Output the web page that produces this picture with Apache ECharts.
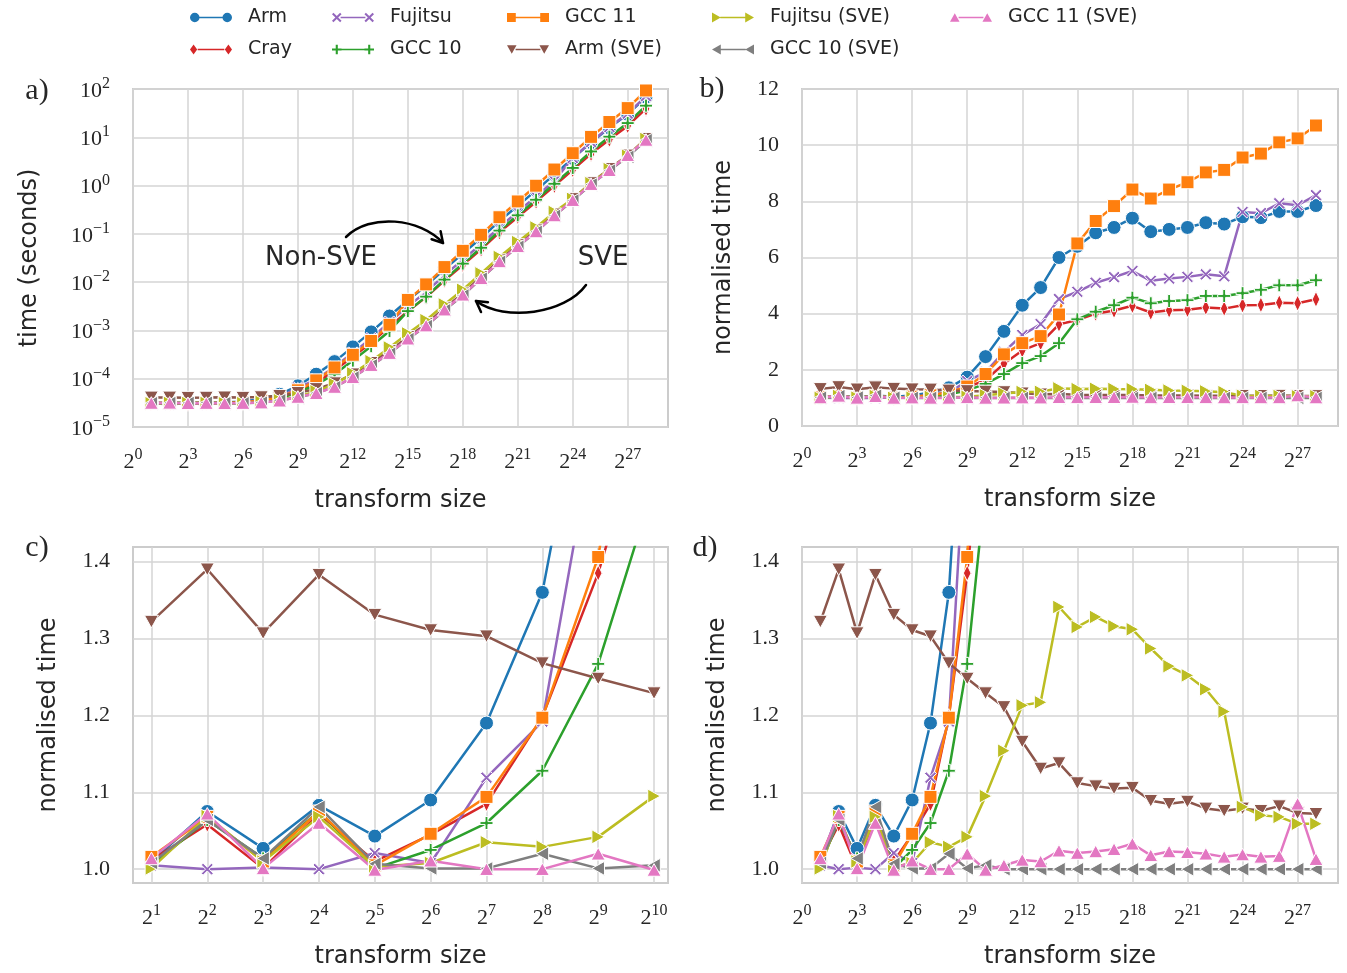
<!DOCTYPE html>
<html>
<head>
<meta charset="utf-8">
<title>FFT transform timings</title>
<script src="https://cdn.jsdelivr.net/npm/echarts@6/dist/echarts.min.js"></script>
<style>
  html, body { margin: 0; padding: 0; background: #fff; }
  #chart { width: 1347px; height: 973px; }
</style>
</head>
<body>
<div id="chart"></div>
<script>
// x values: log2 of the transform size (2^1 .. 2^28)
var exps = [1, 2, 3, 4, 5, 6, 7, 8, 9, 10, 11, 12, 13, 14, 15, 16, 17, 18, 19, 20, 21, 22, 23, 24, 25, 26, 27, 28];
var names = ['Arm', 'Cray', 'Fujitsu', 'GCC 10', 'GCC 11', 'Arm (SVE)', 'Fujitsu (SVE)', 'GCC 10 (SVE)', 'GCC 11 (SVE)'];
var colors = ['#1f77b4', '#d62728', '#9467bd', '#2ca02c', '#ff7f0e', '#8c564b', '#bcbd22', '#7f7f7f', '#e377c2'];
var markerKinds = ['circle', 'diamond', 'x', 'plus', 'square', 'down', 'right', 'left', 'up'];

// panel a: time in seconds
var timeArm = [3.13e-5, 3.17e-5, 3.18e-5, 3.19e-5, 3.23e-5, 3.38e-5, 3.81e-5, 4.76e-5, 7.13e-5, 1.24e-4, 2.26e-4, 4.56e-4, 9.32e-4, 1.99e-3, 4.22e-3, 8.46e-3, 1.85e-2, 3.92e-2, 8.17e-2, 0.184, 0.382, 0.796, 1.70, 3.65, 7.79, 15.7, 30.0, 68.3];
var timeCray = [3.14e-5, 3.12e-5, 3.10e-5, 3.16e-5, 3.13e-5, 3.24e-5, 3.47e-5, 4.19e-5, 5.68e-5, 8.15e-5, 1.49e-4, 2.85e-4, 5.58e-4, 1.20e-3, 2.49e-3, 4.92e-3, 1.08e-2, 2.27e-2, 4.77e-2, 0.108, 0.224, 0.464, 0.986, 2.11, 4.53, 9.0, 17.2, 39.2];
var timeFujitsu = [3.12e-5, 2.95e-5, 3.11e-5, 2.95e-5, 3.17e-5, 3.13e-5, 3.58e-5, 4.17e-5, 6.56e-5, 9.6e-5, 1.77e-4, 3.43e-4, 6.86e-4, 1.50e-3, 3.15e-3, 6.27e-3, 1.39e-2, 2.93e-2, 6.10e-2, 0.138, 0.287, 0.594, 1.26, 3.73, 7.96, 16.3, 30.9, 71.5];
var timeGcc10 = [3.12e-5, 3.14e-5, 3.14e-5, 3.17e-5, 3.10e-5, 3.18e-5, 3.39e-5, 3.95e-5, 5.19e-5, 7.5e-5, 1.24e-4, 2.37e-4, 4.71e-4, 9.76e-4, 2.51e-3, 5.01e-3, 1.13e-2, 2.42e-2, 5.16e-2, 0.117, 0.242, 0.509, 1.09, 2.32, 5.09, 10.3, 19.7, 45.2];
var timeGcc11 = [3.15e-5, 3.15e-5, 3.13e-5, 3.17e-5, 3.12e-5, 3.24e-5, 3.50e-5, 4.19e-5, 5.76e-5, 9.25e-5, 1.71e-4, 3.13e-4, 6.05e-4, 1.31e-3, 4.29e-3, 8.98e-3, 2.05e-2, 4.46e-2, 9.56e-2, 0.221, 0.469, 0.993, 2.15, 4.68, 10.2, 20.7, 40.2, 93.1];
var timeArmSve = [4.10e-5, 4.10e-5, 4.05e-5, 4.08e-5, 4.13e-5, 4.06e-5, 4.17e-5, 4.44e-5, 5.12e-5, 6.15e-5, 8.11e-5, 1.24e-4, 2.14e-4, 3.77e-4, 7.34e-4, 1.36e-3, 2.90e-3, 5.86e-3, 1.29e-2, 2.85e-2, 5.88e-2, 0.119, 0.254, 0.529, 1.13, 2.22, 4.22, 9.33];
var timeFujitsuSve = [3.10e-5, 3.15e-5, 3.13e-5, 3.15e-5, 3.11e-5, 3.12e-5, 3.31e-5, 3.60e-5, 4.27e-5, 5.48e-5, 7.73e-5, 1.29e-4, 2.30e-4, 4.44e-4, 8.68e-4, 1.63e-3, 3.45e-3, 6.95e-3, 1.52e-2, 3.32e-2, 6.76e-2, 0.136, 0.284, 0.530, 1.12, 2.19, 4.16, 9.21];
var timeGcc10Sve = [3.12e-5, 3.14e-5, 3.14e-5, 3.19e-5, 3.12e-5, 3.10e-5, 3.20e-5, 3.57e-5, 4.10e-5, 5.03e-5, 6.70e-5, 1.06e-4, 1.89e-4, 3.31e-4, 6.60e-4, 1.23e-3, 2.62e-3, 5.30e-3, 1.18e-2, 2.63e-2, 5.40e-2, 0.110, 0.236, 0.490, 1.05, 2.05, 3.93, 8.70];
var timeGcc11Sve = [3.14e-5, 3.16e-5, 3.10e-5, 3.13e-5, 3.10e-5, 3.13e-5, 3.20e-5, 3.50e-5, 4.18e-5, 5.00e-5, 6.73e-5, 1.07e-4, 1.91e-4, 3.39e-4, 6.74e-4, 1.26e-3, 2.69e-3, 5.47e-3, 1.20e-2, 2.69e-2, 5.52e-2, 0.112, 0.240, 0.499, 1.07, 2.08, 4.26, 8.81];

// panels b, c, d: normalised time
var normArm = [1.01, 1.075, 1.027, 1.083, 1.043, 1.09, 1.19, 1.36, 1.74, 2.47, 3.37, 4.3, 4.93, 6.0, 6.4, 6.88, 7.07, 7.4, 6.92, 7.0, 7.07, 7.24, 7.19, 7.45, 7.42, 7.64, 7.64, 7.85];
var normCray = [1.012, 1.058, 1.001, 1.072, 1.01, 1.045, 1.085, 1.198, 1.385, 1.63, 2.22, 2.69, 2.95, 3.62, 3.77, 4.0, 4.11, 4.28, 4.04, 4.12, 4.14, 4.22, 4.18, 4.3, 4.31, 4.39, 4.37, 4.51];
var normFujitsu = [1.005, 1.0, 1.002, 1.0, 1.021, 1.008, 1.119, 1.192, 1.6, 1.92, 2.64, 3.24, 3.63, 4.52, 4.78, 5.1, 5.3, 5.52, 5.17, 5.25, 5.31, 5.4, 5.33, 7.62, 7.58, 7.93, 7.86, 8.22];
var normGcc10 = [1.005, 1.064, 1.014, 1.075, 1.001, 1.025, 1.06, 1.128, 1.267, 1.5, 1.85, 2.24, 2.49, 2.95, 3.8, 4.07, 4.3, 4.57, 4.37, 4.45, 4.48, 4.63, 4.63, 4.73, 4.85, 5.01, 5.01, 5.19];
var normGcc11 = [1.016, 1.068, 1.01, 1.075, 1.005, 1.046, 1.094, 1.197, 1.406, 1.85, 2.55, 2.95, 3.2, 3.97, 6.5, 7.3, 7.83, 8.42, 8.1, 8.42, 8.68, 9.03, 9.12, 9.56, 9.7, 10.1, 10.24, 10.7];
var normArmSve = [1.322, 1.39, 1.307, 1.383, 1.331, 1.311, 1.303, 1.268, 1.248, 1.229, 1.211, 1.166, 1.131, 1.138, 1.112, 1.108, 1.105, 1.106, 1.089, 1.085, 1.088, 1.079, 1.076, 1.079, 1.076, 1.082, 1.073, 1.072];
var normFujitsuSve = [1.001, 1.069, 1.01, 1.068, 1.003, 1.008, 1.035, 1.029, 1.042, 1.095, 1.154, 1.213, 1.217, 1.341, 1.315, 1.328, 1.316, 1.312, 1.287, 1.264, 1.252, 1.234, 1.205, 1.081, 1.07, 1.068, 1.059, 1.059];
var normGcc10Sve = [1.008, 1.064, 1.014, 1.081, 1.007, 1.001, 1.001, 1.02, 1.001, 1.005, 1.0, 1.0, 1.0, 1.0, 1.0, 1.0, 1.0, 1.0, 1.0, 1.0, 1.0, 1.0, 1.0, 1.0, 1.0, 1.0, 1.0, 1.0];
var normGcc11Sve = [1.014, 1.072, 1.001, 1.06, 0.999, 1.011, 1.0, 1.0, 1.02, 0.999, 1.005, 1.012, 1.01, 1.024, 1.021, 1.023, 1.026, 1.033, 1.018, 1.023, 1.022, 1.02, 1.016, 1.019, 1.016, 1.017, 1.085, 1.013];

var xTicksWide = [0, 3, 6, 9, 12, 15, 18, 21, 24, 27];
var xTicksSmall = [1, 2, 3, 4, 5, 6, 7, 8, 9, 10];
var yTicksZoom = [1.0, 1.1, 1.2, 1.3, 1.4];

var timeSets = [timeArm, timeCray, timeFujitsu, timeGcc10, timeGcc11, timeArmSve, timeFujitsuSve, timeGcc10Sve, timeGcc11Sve];
var normSets = [normArm, normCray, normFujitsu, normGcc10, normGcc11, normArmSve, normFujitsuSve, normGcc10Sve, normGcc11Sve];

var sansFont = 'DejaVu Sans';
var serifFont = 'Liberation Serif';
var textColor = '#262626';

// marker outlines in a 10x10 box, clockwise
var shapePts = {
    square: [[0.5, 0.5], [9.5, 0.5], [9.5, 9.5], [0.5, 9.5]],
    diamond: [[5, 0], [8.5, 5], [5, 10], [1.5, 5]],
    x: [[0, 1.5], [1.5, 0], [5, 3.5], [8.5, 0], [10, 1.5], [6.5, 5], [10, 8.5], [8.5, 10], [5, 6.5], [1.5, 10], [0, 8.5], [3.5, 5]],
    plus: [[3.9, 0], [6.1, 0], [6.1, 3.9], [10, 3.9], [10, 6.1], [6.1, 6.1], [6.1, 10], [3.9, 10], [3.9, 6.1], [0, 6.1], [0, 3.9], [3.9, 3.9]],
    down: [[0, 0.5], [10, 0.5], [5, 9.5]],
    up: [[5, 0.5], [10, 9.5], [0, 9.5]],
    right: [[0.5, 0], [9.5, 5], [0.5, 10]],
    left: [[9.5, 10], [0.5, 5], [9.5, 0]]
};
function shapePath(kind, o) {
    if (kind === 'circle') {
        return 'M' + o + ',5A5,5 0 1,1 ' + (o + 10) + ',5A5,5 0 1,1 ' + o + ',5Z';
    }
    return 'M' + shapePts[kind].map(function (p) { return (p[0] + o) + ',' + p[1]; }).join('L') + 'Z';
}
function legendIcon(kind) {
    return 'path://' + shapePath(kind, 0) + 'M9,4.2H35V5.8H9Z' + shapePath(kind, 34);
}
var symbolSizes = { circle: 14, square: 13, diamond: [11, 16], x: 12, plus: 13, down: 14, up: 14, right: 14, left: 14 };

var richTick = {
    b: { fontFamily: serifFont, fontSize: 22, color: textColor, lineHeight: 26, verticalAlign: 'bottom' },
    s: { fontFamily: serifFont, fontSize: 16, color: textColor, lineHeight: 15, verticalAlign: 'top' }
};
function pow2Label(v) { return '{b|2}{s|' + Math.round(v) + '}'; }
function pow10Label(v) {
    var e = Math.round(Math.log10(v));
    return '{b|10}{s|' + (e < 0 ? '\u2212' + (-e) : e) + '}';
}

var gridStyle = { show: true, borderColor: '#cccccc', borderWidth: 2, backgroundColor: '#ffffff' };
var grids = [
    { left: 133, top: 89, width: 535, height: 338 },
    { left: 802, top: 89, width: 536, height: 337 },
    { left: 133, top: 547, width: 535, height: 336 },
    { left: 802, top: 547, width: 536, height: 336 }
].map(function (g) { return Object.assign({}, gridStyle, g); });

var splitLine = { show: true, lineStyle: { color: '#d4d4d4', width: 1.5 } };
var nameStyle = { fontFamily: sansFont, fontSize: 24, color: textColor };

function xAxisFor(i, min, max, ticks) {
    return {
        type: 'value', gridIndex: i, min: min, max: max,
        axisLine: { show: false },
        axisTick: { show: false, customValues: ticks },
        axisLabel: { customValues: ticks, margin: 20, formatter: pow2Label, rich: richTick },
        splitLine: splitLine,
        name: 'transform size', nameLocation: 'middle', nameGap: 62, nameTextStyle: nameStyle
    };
}
var xAxes = [
    xAxisFor(0, 0, 29.2, xTicksWide),
    xAxisFor(1, 0, 29.2, xTicksWide),
    xAxisFor(2, 0.67, 10.25, xTicksSmall),
    xAxisFor(3, 0, 29.2, xTicksWide)
];

var yAxes = [
    {
        type: 'log', logBase: 10, gridIndex: 0, min: 1e-5, max: 100,
        axisLine: { show: false }, axisTick: { show: false },
        axisLabel: { margin: 23, formatter: pow10Label, rich: richTick },
        splitLine: splitLine,
        name: 'time (seconds)', nameLocation: 'middle', nameGap: 91, nameTextStyle: nameStyle
    },
    {
        type: 'value', gridIndex: 1, min: 0, max: 12, interval: 2,
        axisLine: { show: false }, axisTick: { show: false },
        axisLabel: { margin: 23, fontFamily: serifFont, fontSize: 22, color: textColor },
        splitLine: splitLine,
        name: 'normalised time', nameLocation: 'middle', nameGap: 66, nameTextStyle: nameStyle
    }
];
[2, 3].forEach(function (i) {
    yAxes.push({
        type: 'value', gridIndex: i, min: 0.982, max: 1.419,
        axisLine: { show: false },
        axisTick: { show: false, customValues: yTicksZoom },
        axisLabel: {
            customValues: yTicksZoom, margin: 23, fontFamily: serifFont, fontSize: 22, color: textColor,
            formatter: function (v) { return v.toFixed(1); }
        },
        splitLine: splitLine,
        name: 'normalised time', nameLocation: 'middle', nameGap: 72, nameTextStyle: nameStyle
    });
});

function pairs(ys, n) {
    return exps.slice(0, n).map(function (e, i) { return [e, ys[i]]; });
}

var series = [];
for (var p = 0; p < 4; p++) {
    for (var s = 0; s < names.length; s++) {
        var kind = markerKinds[s];
        var data = p === 0 ? pairs(timeSets[s], 28) : pairs(normSets[s], p === 2 ? 10 : 28);
        series.push({
            name: names[s], type: 'line', xAxisIndex: p, yAxisIndex: p,
            data: data,
            symbol: 'path://' + shapePath(kind, 0),
            symbolSize: symbolSizes[kind],
            symbolKeepAspect: true,
            lineStyle: { color: colors[s], width: 2.5 },
            itemStyle: { color: colors[s], borderColor: '#ffffff', borderWidth: 1 },
            emphasis: { disabled: true },
            clip: true,
            silent: true
        });
    }
}

var legendCols = [
    { left: 190, items: [0, 1] },
    { left: 332, items: [2, 3] },
    { left: 507, items: [4, 5] },
    { left: 712, items: [6, 7] },
    { left: 950, items: [8] }
];
var legends = legendCols.map(function (c) {
    return {
        left: c.left, top: 7, orient: 'vertical', padding: 0,
        itemWidth: 42, itemHeight: 12, itemGap: 11,
        selectedMode: false,
        itemStyle: { borderWidth: 0 },
        textStyle: { fontFamily: sansFont, fontSize: 19, color: textColor, lineHeight: 21, padding: [0, 0, 0, 11] },
        data: c.items.map(function (k) { return { name: names[k], icon: legendIcon(markerKinds[k]) }; })
    };
});

function label(text, x, y) {
    return { type: 'text', x: x, y: y, style: { text: text, font: '30px "' + serifFont + '"', fill: textColor, align: 'center', verticalAlign: 'middle' } };
}
function note(text, x, y) {
    return { type: 'text', x: x, y: y, z: 10, style: { text: text, font: '26px "' + sansFont + '"', fill: textColor, align: 'center', verticalAlign: 'middle' } };
}
var arrowStyle = { stroke: '#000000', lineWidth: 2.5, fill: null, lineCap: 'round', lineJoin: 'round' };

var option = {
    animation: false,
    backgroundColor: '#ffffff',
    grid: grids,
    xAxis: xAxes,
    yAxis: yAxes,
    legend: legends,
    series: series,
    graphic: [
        label('a)', 37, 91), label('b)', 712, 89), label('c)', 37, 548), label('d)', 705, 548),
        note('Non-SVE', 321, 258), note('SVE', 603, 258),
        { type: 'bezierCurve', z: 10, shape: { x1: 346, y1: 237, cpx1: 370, cpy1: 213, cpx2: 420, cpy2: 218, x2: 443, y2: 243 }, style: arrowStyle },
        { type: 'polyline', z: 10, shape: { points: [[440.6, 231.2], [443, 243], [431.6, 239.2]] }, style: arrowStyle },
        { type: 'bezierCurve', z: 10, shape: { x1: 586, y1: 285, cpx1: 565, cpy1: 314, cpx2: 505, cpy2: 322, x2: 476, y2: 301 }, style: arrowStyle },
        { type: 'polyline', z: 10, shape: { points: [[481, 312], [476, 301], [488, 302.2]] }, style: arrowStyle }
    ]
};

var chart = echarts.init(document.getElementById('chart'), null, { renderer: 'canvas' });
chart.setOption(option);
</script>
</body>
</html>
